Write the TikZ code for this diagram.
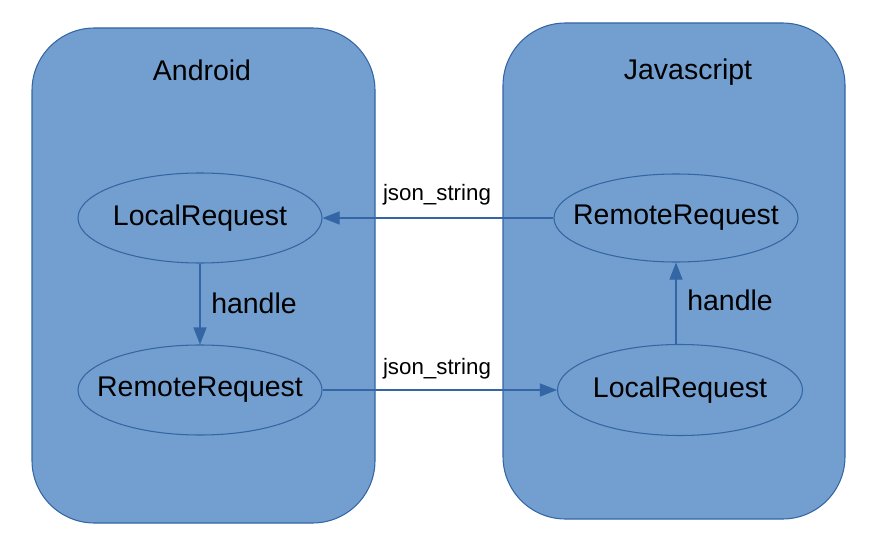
\documentclass[tikz,border=0pt]{standalone}
\usepackage{fontspec}
\setmainfont{Liberation Sans}
\usepackage{xcolor}
\usepackage{tikz}
\usetikzlibrary{positioning}
\usetikzlibrary{arrows, arrows.meta, shapes.geometric}

\definecolor{boxfill}{HTML}{729FCF}
\definecolor{boxline}{HTML}{3465A4}

\begin{document}
\begin{tikzpicture}[
    side/.style={draw=boxline, fill=boxfill, rounded corners=1.25cm, line width=0.6pt},
    req/.style={ellipse, draw=boxline, fill=boxfill, inner xsep=-1cm, inner ysep=0pt,
                line width=0.6pt, font=\fontsize{16.2}{19}\selectfont},
    call/.style={draw=boxline, line width=0.6pt, -{Triangle[length=0.34cm, width=0.26cm]}},
    big/.style={font=\fontsize{16.2}{19}\selectfont},
    small/.style={font=\fontsize{12.7}{15}\selectfont}
  ]
  \useasboundingbox (0,0) rectangle (17.44,-10.74);

  % the two sides
  \draw[side] (0.64,-0.56) rectangle (7.50,-10.46);
  \draw[side] (10.06,-0.46) rectangle (16.90,-10.38);

  \node[big] (TA) at (4.04,-1.40) {Android};
  \node[big] (TJ) at (13.76,-1.44) {Javascript};

  % requests
  \node[req, minimum width=4.88cm, minimum height=1.80cm] (AL) at (4.00,-4.36) {LocalRequest};
  \node[req, minimum width=4.88cm, minimum height=1.80cm] (AR) at (4.00,-7.80) {RemoteRequest};
  \node[req, minimum width=4.88cm, minimum height=1.76cm] (JR) at (13.52,-4.36) {RemoteRequest};
  \node[req, minimum width=4.90cm, minimum height=1.82cm] (JL) at (13.60,-7.80) {LocalRequest};

  \draw[call] (JR.west) -- (AL.east);
  \draw[call] (AR.east) -- (JL.west);
  \draw[call] (AL.south) -- (AR.north);
  \draw[call] (JL.north -| JR) -- (JR.south);

  \node[small] (J1) at (8.74,-3.90) {json\_string};
  \node[small] (J2) at (8.74,-7.38) {json\_string};
  \node[big] (H1) at (5.08,-6.06) {handle};
  \node[big] (H2) at (14.60,-6.00) {handle};
\end{tikzpicture}
\end{document}
